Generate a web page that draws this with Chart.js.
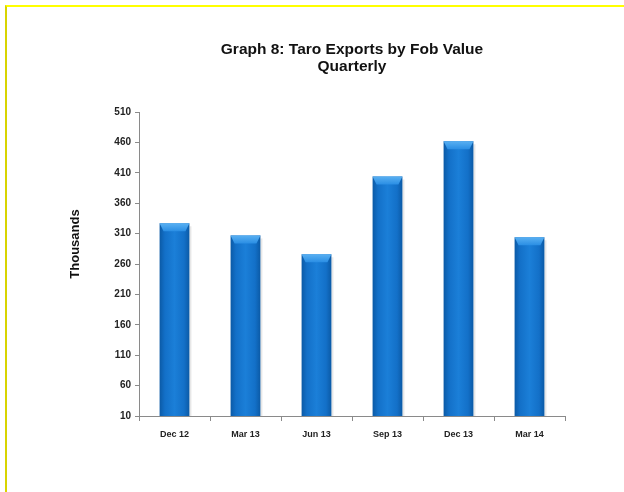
<!DOCTYPE html>
<html>
<head>
<meta charset="utf-8">
<script src="https://cdn.jsdelivr.net/npm/chart.js@4/dist/chart.umd.min.js"></script>
<style>
  html, body { margin: 0; padding: 0; background: #fff; }
  #wrap { position: relative; width: 624px; height: 492px; overflow: hidden; }
  #frame {
    position: absolute; left: 5px; top: 5px; right: -10px; bottom: -10px;
    border-top: 2px solid #ffff00; border-left: 2px solid #d8d400;
  }
  canvas { position: absolute; left: 0; top: 0; }
</style>
</head>
<body>
<div id="wrap">
  <div id="frame"></div>
  <canvas id="chart" width="624" height="492"></canvas>
</div>
<script>
const QUARTERS = ["Dec 12", "Mar 13", "Jun 13", "Sep 13", "Dec 13", "Mar 14"];
const FOB_VALUES = [327, 307, 276, 404, 462, 304];
const Y_MIN = 10;
const Y_MAX = 510;
const Y_STEP = 50;
const Y_TITLE = "Thousands";

const FONT = '"Liberation Sans", Arial, sans-serif';

// paints each bar with a rounded-looking horizontal gradient and a lighter top bevel
const barShading = {
  id: "barShading",
  afterDatasetsDraw(chart) {
    const { ctx, chartArea } = chart;
    chart.getDatasetMeta(0).data.forEach((bar) => {
      const w = bar.width;
      const left = bar.x - w / 2;
      const right = bar.x + w / 2;
      const top = bar.y;
      const bottom = Math.min(bar.base, chartArea.bottom);

      ctx.save();
      ctx.fillStyle = "rgba(120,120,120,0.18)";
      ctx.fillRect(right, top + 3, 2, bottom - top - 3);

      const g = ctx.createLinearGradient(left, 0, right, 0);
      g.addColorStop(0, "#0b5aa6");
      g.addColorStop(0.18, "#1370c8");
      g.addColorStop(0.5, "#1b7fd8");
      g.addColorStop(0.82, "#1370c8");
      g.addColorStop(1, "#0b5aa6");
      ctx.fillStyle = g;
      ctx.fillRect(left, top, w, bottom - top);

      const bev = 8;
      const gt = ctx.createLinearGradient(0, top, 0, top + bev);
      gt.addColorStop(0, "#59b0f2");
      gt.addColorStop(1, "#2a8ee4");
      ctx.fillStyle = gt;
      ctx.beginPath();
      ctx.moveTo(left, top);
      ctx.lineTo(right, top);
      ctx.lineTo(right - 4, top + bev);
      ctx.lineTo(left + 4, top + bev);
      ctx.closePath();
      ctx.fill();
      ctx.restore();
    });
  },
  afterDraw(chart) {
    // y axis title sits above the middle of the axis in the original
    const { ctx } = chart;
    ctx.save();
    ctx.translate(75, 244);
    ctx.rotate(-Math.PI / 2);
    ctx.font = `bold 13px ${FONT}`;
    ctx.fillStyle = "#111";
    ctx.textAlign = "center";
    ctx.textBaseline = "middle";
    ctx.fillText(Y_TITLE, 0, 0);
    ctx.restore();
  }
};

new Chart(document.getElementById("chart"), {
  type: "bar",
  data: {
    labels: QUARTERS,
    datasets: [
      {
        data: FOB_VALUES,
        backgroundColor: "rgba(0,0,0,0)",
        borderWidth: 0,
        categoryPercentage: 1,
        barPercentage: 0.42
      }
    ]
  },
  options: {
    responsive: false,
    animation: false,
    devicePixelRatio: 1,
    layout: { padding: { left: 0, right: 59, top: 0, bottom: 0 } },
    plugins: {
      legend: { display: false },
      tooltip: { enabled: false },
      title: {
        display: true,
        fullSize: false,
        text: ["Graph 8: Taro Exports by Fob Value", "Quarterly"],
        color: "#111",
        font: { family: FONT, size: 15.5, weight: "bold", lineHeight: 1.05 },
        padding: { top: 42, bottom: 37.5 }
      }
    },
    scales: {
      x: {
        offset: true,
        border: { display: true, color: "#8a8a8a", width: 1 },
        grid: {
          display: true,
          offset: true,
          drawOnChartArea: false,
          drawTicks: true,
          tickLength: 5,
          color: "#8a8a8a"
        },
        ticks: {
          color: "#222",
          padding: 8,
          maxRotation: 0,
          font: { family: FONT, size: 9, weight: "bold" }
        },
        afterFit(scale) {
          scale.height = 76;
        }
      },
      y: {
        min: Y_MIN,
        max: Y_MAX,
        border: { display: true, color: "#8a8a8a", width: 1 },
        grid: {
          display: true,
          drawOnChartArea: false,
          drawTicks: true,
          tickLength: 4,
          color: "#8a8a8a"
        },
        ticks: {
          stepSize: Y_STEP,
          color: "#222",
          padding: 4,
          font: { family: FONT, size: 10, weight: "bold" }
        },
        afterFit(scale) {
          scale.width = 139;
        }
      }
    }
  },
  plugins: [barShading]
});
</script>
</body>
</html>
